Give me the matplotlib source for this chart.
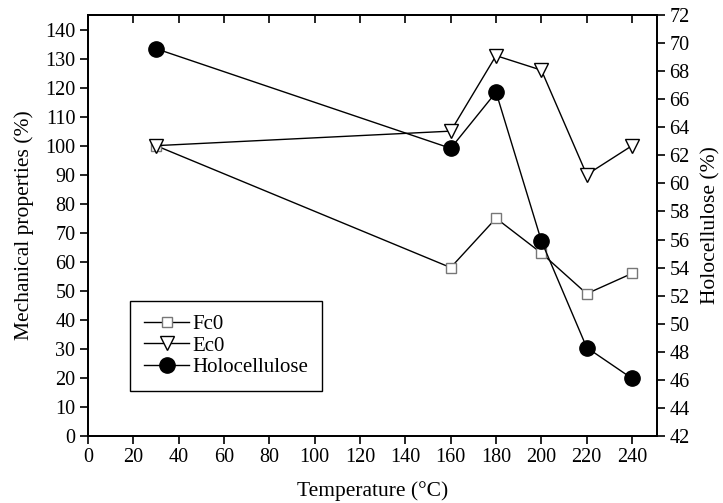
import matplotlib
matplotlib.use("Agg")
import matplotlib.pyplot as plt

plt.rcParams['font.family'] = ['Liberation Serif', 'DejaVu Serif']
plt.rcParams['font.size'] = 15

temp = [30, 160, 180, 200, 220, 240]
fc0 = [100, 58, 75, 63, 49, 56]
ec0 = [100, 105, 131, 126, 90, 100]
holo = [69.6, 62.5, 66.5, 55.9, 48.3, 46.1]

fig = plt.figure(figsize=(7.23, 5.03), dpi=100)
ax = fig.add_axes([88 / 723, 67 / 503, 569 / 723, 421 / 503])
ax2 = ax.twinx()

l1, = ax.plot(temp, fc0, color='black', lw=1, marker='s', ms=7.5,
              mfc='white', mec='#777777', mew=1, label='Fc0')
l2, = ax.plot(temp, ec0, color='black', lw=1, marker='v', ms=9.5,
              mfc='white', mec='black', mew=1, label='Ec0')
l3, = ax2.plot(temp, holo, color='black', lw=1, marker='o', ms=11,
               mfc='black', mec='black', label='Holocellulose')

ax.set_xlim(0, 251)
ax.set_ylim(0, 145)
ax2.set_ylim(42, 72)
ax.set_xticks(range(0, 241, 20))
ax.set_yticks(range(0, 141, 10))
ax2.set_yticks(range(42, 73, 2))

ax.tick_params(axis='both', direction='out', length=6, width=1.2,
               labelsize=14.5, pad=3)
ax2.tick_params(axis='y', direction='out', length=6, width=1.2,
                labelsize=14.5, pad=3)
top = ax.secondary_xaxis('top')
top.set_xticks(range(0, 241, 20))
top.tick_params(direction='in', length=6, width=1.2, labeltop=False)
for s in list(ax.spines.values()) + list(ax2.spines.values()):
    s.set_linewidth(1.3)
top.spines['top'].set_linewidth(1.3)

ax.set_xlabel('Temperature (°C)', fontsize=15.5, labelpad=10)
ax.set_ylabel('Mechanical properties (%)', fontsize=15.5, labelpad=8)
ax2.set_ylabel('Holocellulose (%)', fontsize=15.5, labelpad=8)

leg = ax.legend(handles=[l1, l2, l3], loc='lower left',
                bbox_to_anchor=(0.074, 0.107), fancybox=False,
                edgecolor='black', framealpha=1, handlelength=2.2,
                handletextpad=0.15, labelspacing=0.1, borderpad=0.65,
                fontsize=15, borderaxespad=0)
leg.get_frame().set_linewidth(1)

fig.savefig('out.png', dpi=100)
